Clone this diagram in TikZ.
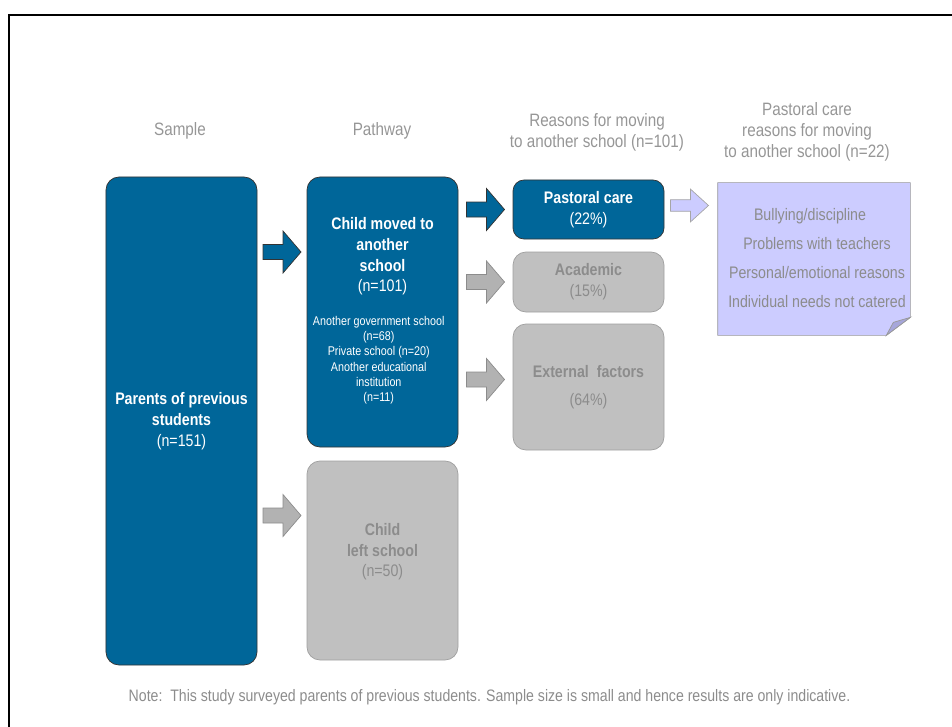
\documentclass[tikz,border=0pt]{standalone}
\usepackage{fontspec}
\setmainfont{Liberation Sans}[FakeStretch=0.85]
\usepackage{tikz}
\usetikzlibrary{calc, positioning}
\definecolor{boxblue}{HTML}{006699}
\definecolor{boxgrey}{HTML}{C0C0C0}
\definecolor{linegrey}{HTML}{A0A0A0}
\definecolor{textgrey}{HTML}{8C8C8C}
\definecolor{headgrey}{HTML}{969696}
\definecolor{lavender}{HTML}{CCCCFF}
\definecolor{folded}{HTML}{A6A6DA}
\tikzstyle{bluebox} = [rectangle, rounded corners=2.6mm, draw=black!80, fill=boxblue, text=white, align=center, inner sep=0pt, minimum width=30.2mm, font=\fontsize{9.5}{11.8}\selectfont\bfseries]
\tikzstyle{greybox} = [bluebox, draw=linegrey, fill=boxgrey, text=textgrey]
\tikzstyle{heading} = [align=center, text=headgrey, font=\fontsize{10.2}{11.9}\selectfont]
\tikzstyle{bluearrow} = [draw=black!80, fill=boxblue]
\tikzstyle{greyarrow} = [draw=textgrey, fill=black!30]
\tikzstyle{lavarrow} = [draw=black!35, fill=lavender, yscale=0.78]
\newcommand{\blockarrow}[2]{\draw[#1] (#2) ++(-19,-7.5) -- ++(20,0) -- ++(0,-13.5) -- ++(18,21) -- ++(-18,21) -- ++(0,-13.5) -- ++(-20,0) -- cycle;}

\begin{document}
\begin{tikzpicture}[x=0.2mm, y=-0.2mm]
	\useasboundingbox (0,0) rectangle (952,727);
	\draw[line width=0.5mm] (9,740) -- (9,15) -- (960,15);
	
	% column headings
	\node[heading] (hsample) at (180,131) {Sample};
	\node[heading] (hpath) at (382,131) {Pathway};
	\node[heading] (hreason) at (597,132.5) {Reasons for moving\\to another school (n=101)};
	\node[heading] (hcare) at (807,132) {Pastoral care\\reasons for moving\\to another school (n=22)};
	
	\node[bluebox, minimum height=97.6mm] (parents) at (181.5,421) {Parents of previous\\students\\\mdseries(n=151)};
	\node[bluebox, minimum height=54mm] (moved) at (382.5,312) {Child moved to\\another\\school\\\mdseries(n=101)\\[10pt]\mdseries\fontsize{7.2}{8.7}\selectfont\begin{tabular}{@{}c@{}}Another government school\\(n=68)\\Private school (n=20)\\Another educational\\institution\\(n=11)\end{tabular}\hspace*{1.5mm}};
	\node[greybox, minimum height=39.8mm] (left) at (382.5,560.5) {Child\\left school\\\mdseries(n=50)\\\mbox{}};
	\node[bluebox, minimum height=11.8mm, rounded corners=2.2mm] (pastoral) at (588.5,209.5) {Pastoral care\\\mdseries(22\%)};
	\node[greybox, minimum height=12mm] (academic) at (588.5,282) {Academic\\\mdseries(15\%)};
	\node[greybox, minimum height=25.2mm] (external) at (588.5,387) {External~~factors\\[4pt]\mdseries(64\%)};
	
	% block arrows
	\coordinate (a1) at (282,252);
	\coordinate (a2) at (282,515.5);
	\coordinate (a3) at (485.5,209.5);
	\coordinate (a4) at (485.5,282);
	\coordinate (a5) at (485.5,379.5);
	\coordinate (a6) at (689.5,205.5);
	\blockarrow{bluearrow}{a1}
	\blockarrow{greyarrow}{a2}
	\blockarrow{bluearrow}{a3}
	\blockarrow{greyarrow}{a4}
	\blockarrow{greyarrow}{a5}
	\blockarrow{lavarrow}{a6}
	
	% note with folded corner
	\node[minimum width=38.4mm, minimum height=30.4mm, inner sep=0pt] (care) at (814,259) {};
	\draw[draw=black!40, fill=lavender] (care.north west) -- (care.north east) -- ($(care.south east)+(0,-18)$) -- ($(care.south east)+(-24,0)$) -- (care.south west) -- cycle;
	\draw[draw=black!40, fill=folded] ($(care.south east)+(0,-18)$) -- ($(care.south east)+(-17,-13)$) -- ($(care.south east)+(-24,0)$) -- cycle;
	\node[align=center, text=textgrey, font=\fontsize{9.5}{16.4}\selectfont] (carelist) at (817,258) {Bullying/discipline\hspace*{2.8mm}\\Problems with teachers\\Personal/emotional reasons\\Individual needs not catered};
	
	\node[text=textgrey, font=\fontsize{9.45}{11}\selectfont] (note) at (489.5,697) {Note:\ \ This study surveyed parents of previous students. Sample size is small and hence results are only indicative.};
\end{tikzpicture}
\end{document}
